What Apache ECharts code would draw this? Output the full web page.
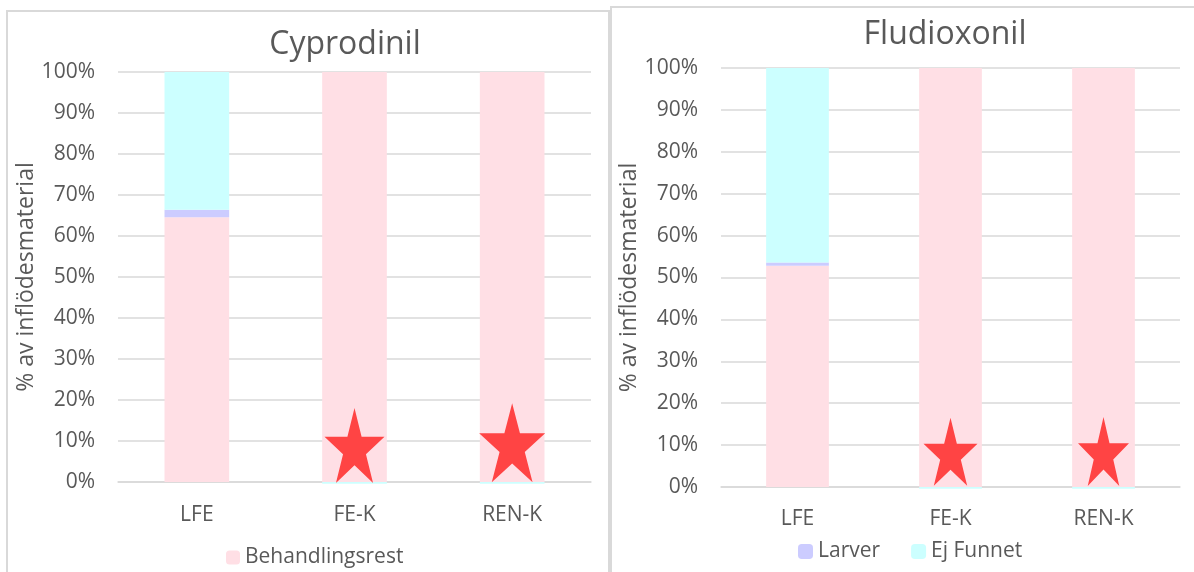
<!DOCTYPE html>
<html>
<head>
<meta charset="utf-8">
<script src="https://cdn.jsdelivr.net/npm/echarts@6/dist/echarts.min.js"></script>
<style>
html,body{margin:0;padding:0;background:#fff;}
#c{width:1194px;height:572px;}
</style>
</head>
<body>
<div id="c"></div>
<script>
// ---- data ----
const categories = ['LFE', 'FE-K', 'REN-K'];
const yTicks = ['0%','10%','20%','30%','40%','50%','60%','70%','80%','90%','100%'];
// Cyprodinil (% of inflow material)
const cypBehandlingsrest = [64.6, 100, 100];
const cypLarver = [1.8, 0, 0];
const cypEjFunnet = [33.6, -0.4, -0.4];
const cypStars = [null, 8.9, 9.6];
// Fludioxonil
const fluBehandlingsrest = [52.8, 100, 100];
const fluLarver = [0.8, 0, 0];
const fluEjFunnet = [46.4, -0.4, -0.4];
const fluStars = [null, 8.4, 8.5];

const COL_B = '#ffdfe5', COL_L = '#ccccff', COL_E = '#ccffff', COL_STAR = '#ff4444';
const TXT = '#595959', GRID = '#d9d9d9';
const FONT = 'Open Sans';
const STAR = 'path://M50,0 L61.8,38.2 L100,38.2 L69.1,61.8 L80.9,100 L50,76.4 L19.1,100 L30.9,61.8 L0,38.2 L38.2,38.2 Z';
const cypStarSize = [null, [60, 75], [66, 79]];
const fluStarSize = [null, [54, 68], [51, 69]];

const chart = echarts.init(document.getElementById('c'), null, {renderer: 'canvas'});

function yAxis(gi, nameGap) {
  return {
    gridIndex: gi, type: 'value', min: 0, max: 100, interval: 10,
    axisLine: {show: false}, axisTick: {show: false},
    axisLabel: {formatter: v => yTicks[Math.round(v / 10)], color: TXT, fontFamily: FONT, fontSize: 21, margin: 23},
    splitLine: {lineStyle: {color: GRID, width: 1.5}},
    name: '% av inflödesmaterial', nameLocation: 'middle', nameGap: nameGap, nameRotate: 90,
    nameTextStyle: {color: TXT, fontFamily: FONT, fontSize: 23}
  };
}
function xAxis(gi, margin) {
  return {
    gridIndex: gi, type: 'category', data: categories,
    axisLine: {lineStyle: {color: GRID, width: 1.5}}, axisTick: {show: false},
    axisLabel: {color: TXT, fontFamily: FONT, fontSize: 21, margin: margin}
  };
}
function bars(gi, stack, b, l, e) {
  const common = {type: 'bar', xAxisIndex: gi, yAxisIndex: gi, stack: stack, barWidth: '41%', clip: false, emphasis: {disabled: true}};
  return [
    Object.assign({name: 'Behandlingsrest', data: b, itemStyle: {color: COL_B}}, common),
    Object.assign({name: 'Larver', data: l, itemStyle: {color: COL_L}}, common),
    Object.assign({name: 'Ej Funnet', data: e, itemStyle: {color: COL_E}}, common)
  ];
}
function stars(gi, vals, sizes) {
  return {
    type: 'scatter', name: 'star', xAxisIndex: gi, yAxisIndex: gi, z: 5,
    symbol: STAR, symbolKeepAspect: false,
    symbolSize: (v, p) => sizes[p.dataIndex] || 0,
    itemStyle: {color: COL_STAR, opacity: 1},
    data: vals.map((v, i) => v == null ? null : [categories[i], v]),
    emphasis: {disabled: true}
  };
}

chart.setOption({
  animation: false,
  backgroundColor: '#ffffff',
  title: [
    {text: 'Cyprodinil', left: 340, top: 24, textAlign: 'center', textStyle: {color: TXT, fontFamily: FONT, fontSize: 32, fontWeight: 'normal'}},
    {text: 'Fludioxonil', left: 940, top: 14, textAlign: 'center', textStyle: {color: TXT, fontFamily: FONT, fontSize: 32, fontWeight: 'normal'}}
  ],
  legend: [
    {data: ['Behandlingsrest'], left: 226, top: 547, padding: 0, itemWidth: 14, itemHeight: 14, itemGap: 33,
     textStyle: {color: TXT, fontFamily: FONT, fontSize: 21}, selectedMode: false},
    {data: ['Larver', 'Ej Funnet'], left: 798, top: 541, padding: 0, itemWidth: 15, itemHeight: 15, itemGap: 31,
     textStyle: {color: TXT, fontFamily: FONT, fontSize: 21}, selectedMode: false}
  ],
  graphic: [
    {type: 'rect', shape: {x: 7, y: 11, width: 602, height: 620}, style: {fill: null, stroke: GRID, lineWidth: 2}, silent: true},
    {type: 'rect', shape: {x: 611, y: 7, width: 620, height: 620}, style: {fill: null, stroke: GRID, lineWidth: 2}, silent: true}
  ],
  grid: [
    {left: 118, right: 1194 - 591, top: 72, bottom: 572 - 482, containLabel: false},
    {left: 721, right: 1194 - 1180, top: 68, bottom: 572 - 487, containLabel: false}
  ],
  xAxis: [xAxis(0, 23), xAxis(1, 22)],
  yAxis: [yAxis(0, 73), yAxis(1, 73)],
  tooltip: {show: false},
  series: [
    ...bars(0, 'cyp', cypBehandlingsrest, cypLarver, cypEjFunnet),
    stars(0, cypStars, cypStarSize),
    ...bars(1, 'flu', fluBehandlingsrest, fluLarver, fluEjFunnet),
    stars(1, fluStars, fluStarSize)
  ]
});
</script>
</body>
</html>
